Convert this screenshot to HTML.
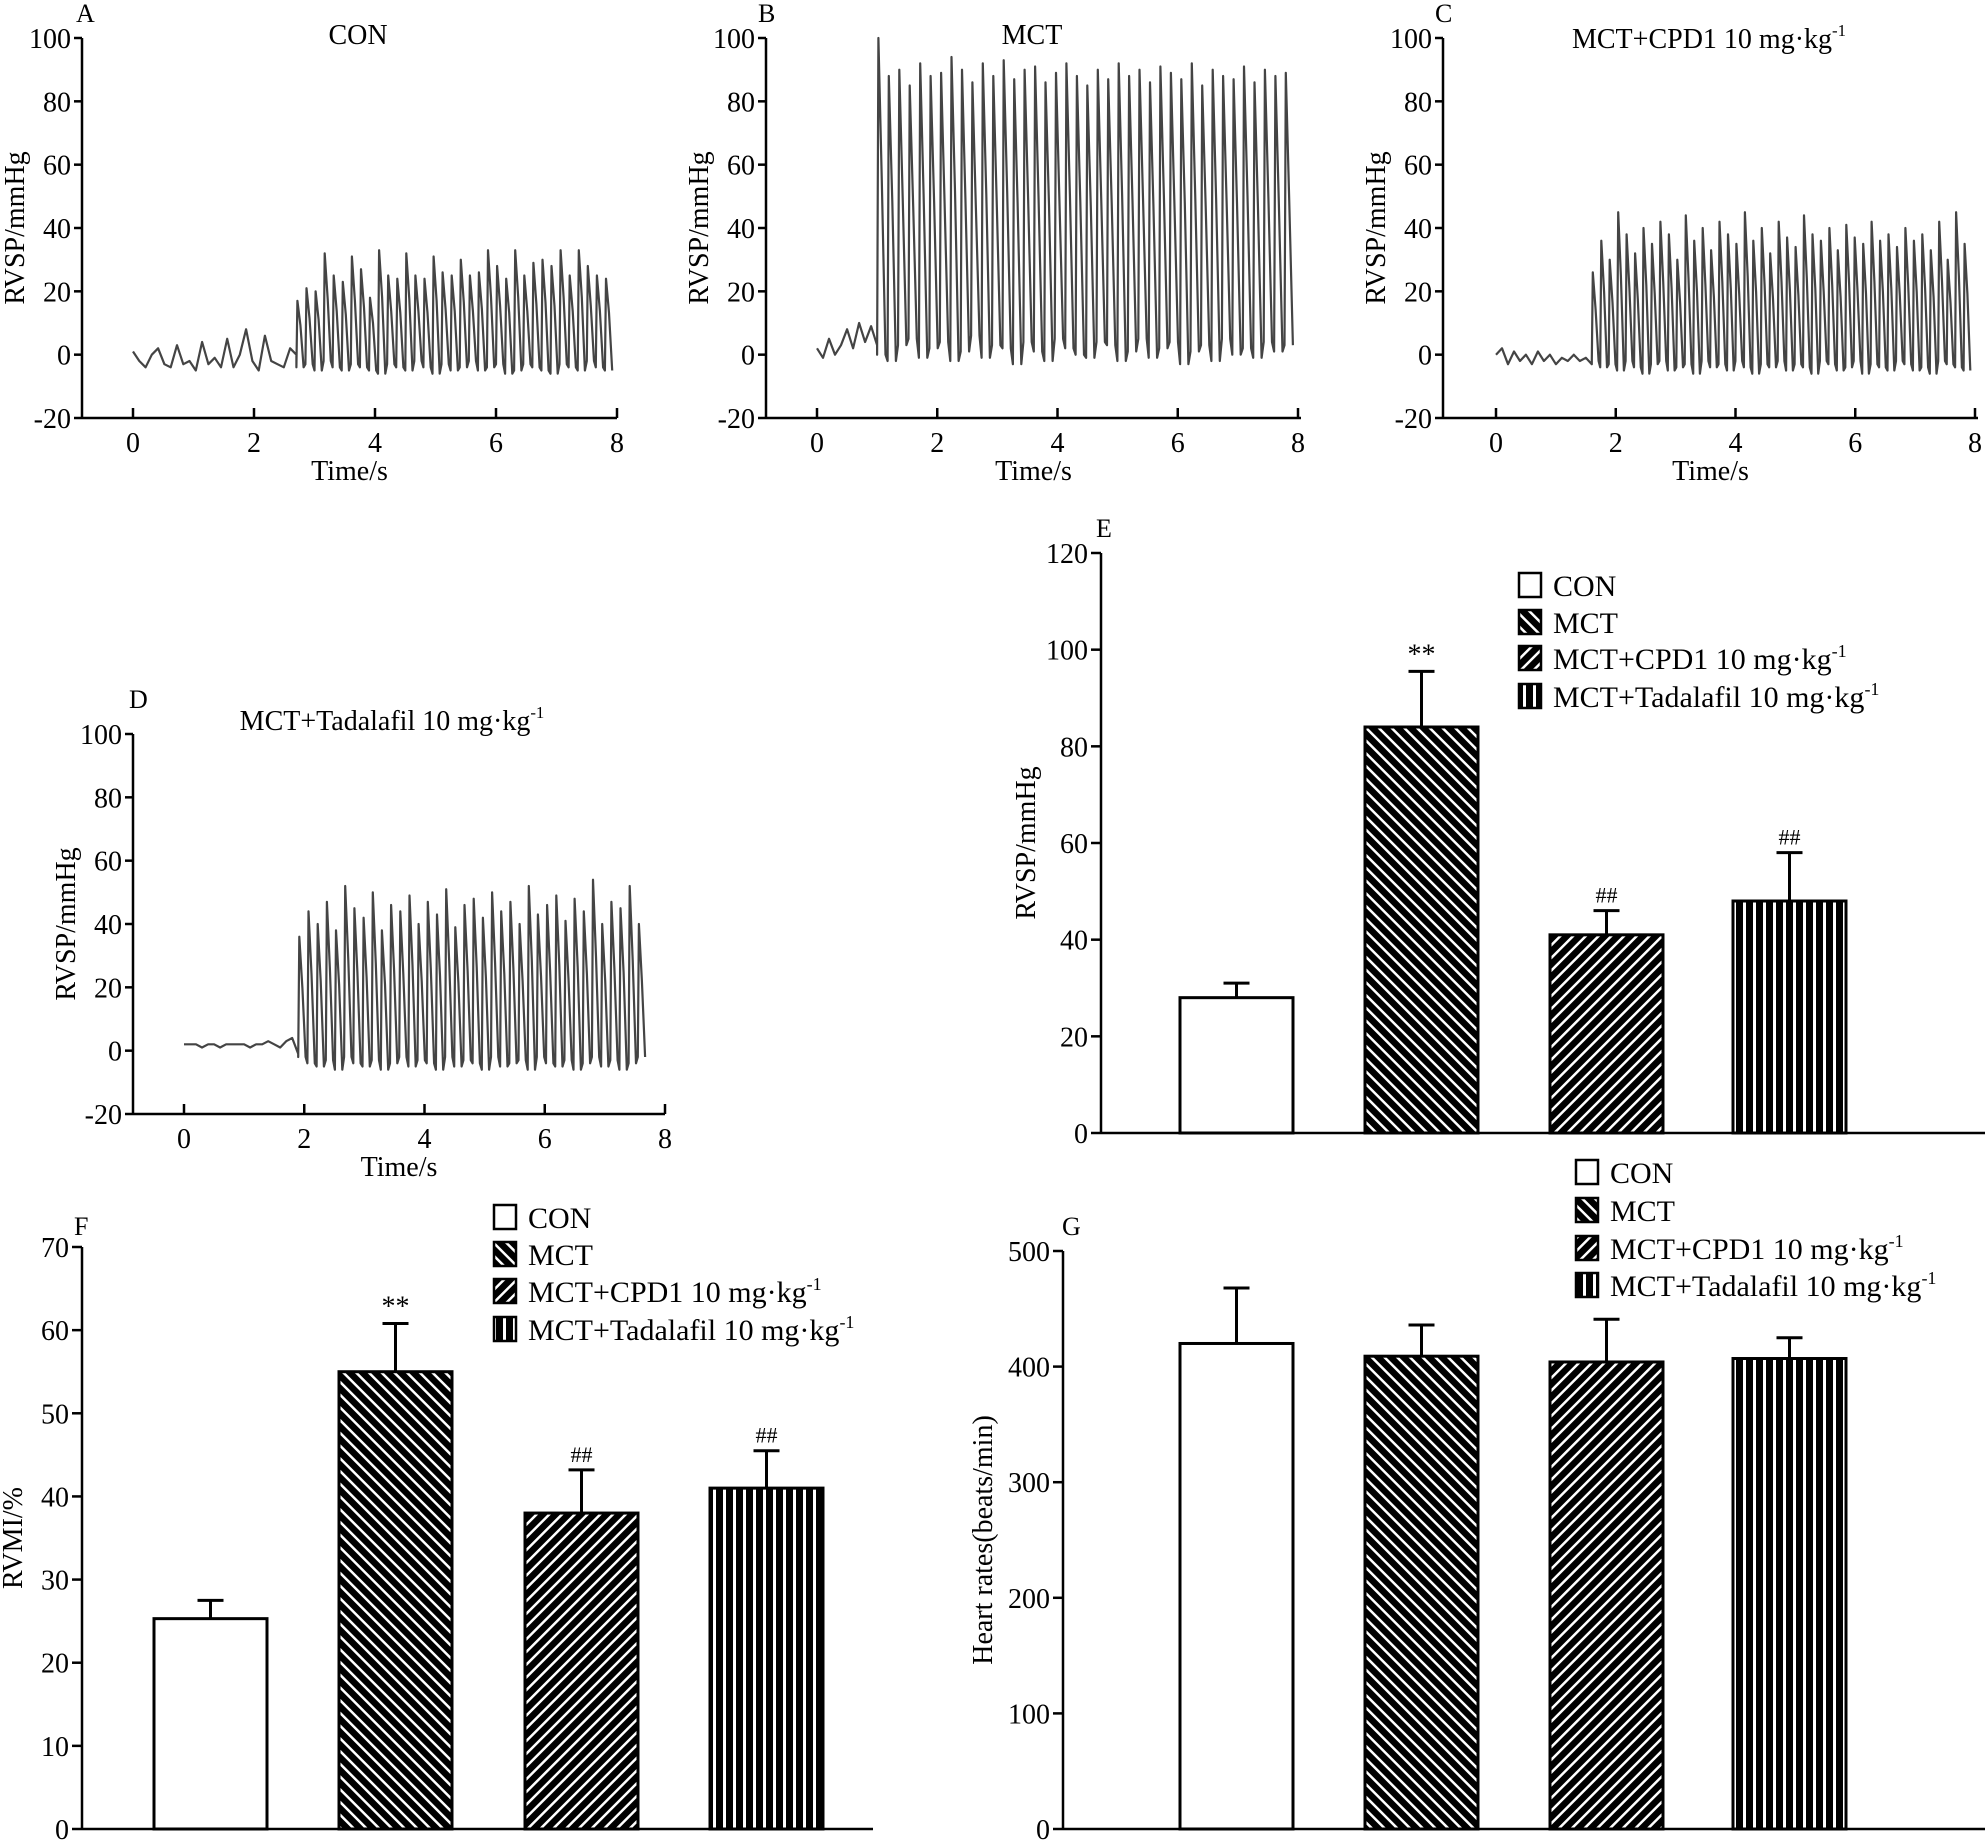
<!DOCTYPE html>
<html><head><meta charset="utf-8"><style>
body{margin:0;background:#fff;}
svg{display:block;font-family:"Liberation Serif",serif;}
</style></head><body>
<svg id="fig" width="1985" height="1843" viewBox="0 0 1985 1843">
<defs>
<pattern id="pMCT" patternUnits="userSpaceOnUse" width="9" height="9" patternTransform="rotate(-45)"><rect width="9" height="9" fill="#000"/><rect x="0" y="0" width="2.5" height="9" fill="#fff"/></pattern>
<pattern id="pCPD" patternUnits="userSpaceOnUse" width="9" height="9" patternTransform="rotate(45)"><rect width="9" height="9" fill="#000"/><rect x="0" y="0" width="2.5" height="9" fill="#fff"/></pattern>
<pattern id="pTAD" patternUnits="userSpaceOnUse" width="10" height="10"><rect width="10" height="10" fill="#000"/><rect x="3" y="0" width="3" height="10" fill="#fff"/></pattern>
</defs>
</svg>
<script>
// ---- trace data ----
const traceA_base=[1,-2,-4,0,2,-3,-4,3,-3,-2,-5,4,-3,-1,-4,5,-4,0,8,-2,-5,6,-2,-3,-4,2,0];
const traceA_peaks=[17,21,20,32,25,23,31,27,18,33,25,24,32,25,24,31,26,25,30,25,26,33,28,24,33,25,29,30,28,33,25,33,28,25,24];
const traceA_troughs=[-4,-3,-5,-2,-4,-5,-3,-4,-5,-6,-3,-4,-5,-2,-4,-6,-3,-5,-4,-2,-5,-4,-3,-6,-5,-3,-4,-5,-6,-3,-4,-5,-2,-4,-5];
const traceB_base=[2,-1,5,0,3,8,2,10,4,9,3];
const traceB_peaks=[100,88,90,85,92,88,89,94,90,86,92,88,93,87,90,91,86,89,92,88,85,90,87,92,88,90,86,91,89,87,92,85,90,88,87,91,86,90,88,89];
const traceB_troughs=[0,-2,3,5,-1,2,4,-2,1,6,-1,3,2,-3,4,1,-2,5,2,0,-1,4,3,-2,1,5,-1,2,4,-3,1,3,-2,5,0,2,-1,4,1,3];
const traceC_base=[0,2,-3,1,-2,0,-3,1,-2,0,-3,-1,-2,0,-2,-1,-3];
const traceC_peaks=[26,36,30,45,38,32,40,35,42,38,30,44,36,40,33,42,38,35,45,36,40,32,42,37,34,44,38,36,40,33,41,37,35,42,36,38,34,40,36,38,33,42,30,45,35];
const traceC_troughs=[-2,-4,-3,-5,-2,-4,-6,-3,-2,-5,-4,-3,-6,-2,-4,-3,-5,-2,-4,-6,-3,-4,-2,-5,-3,-4,-6,-2,-3,-5,-4,-2,-6,-3,-4,-5,-2,-3,-5,-4,-6,-2,-3,-4,-5];
const traceD_base=[2,2,2,1,2,2,1,2,2,2,2,1,2,2,3,2,1,3,4,-1];
const traceD_peaks=[36,44,40,47,38,52,45,42,50,38,46,44,49,40,47,43,51,39,46,48,42,50,44,47,40,52,43,46,49,41,48,44,54,40,47,45,52,40];
const traceD_troughs=[-2,-4,-5,-3,-6,-2,-4,-5,-3,-6,-4,-2,-5,-3,-4,-6,-2,-5,-3,-4,-6,-2,-5,-4,-3,-6,-2,-4,-5,-3,-6,-4,-2,-5,-3,-6,-4,-2];
// ---- bar data ----
const groups=["CON","MCT","MCT+CPD1 10 mg·kg-1","MCT+Tadalafil 10 mg·kg-1"];
const rvspMean=[28,84,41,48];
const rvspErr=[3,11.5,5,10];
const rvspMarks=["","**","##","##"];
const rvmiMean=[25.3,55,38,41];
const rvmiErr=[2.2,5.8,5.2,4.5];
const rvmiMarks=["","**","##","##"];
const hrMean=[420,409,404,407];
const hrErr=[48,27,37,18];
const traceTicksY=[-20,0,20,40,60,80,100];
const traceTicksX=[0,2,4,6,8];
const rvspTicks=[0,20,40,60,80,100,120];
const rvmiTicks=[0,10,20,30,40,50,60,70];
const hrTicks=[0,100,200,300,400,500];

const NS="http://www.w3.org/2000/svg";
const svg=document.getElementById('fig');
function mk(tag,attrs,parent,text){const e=document.createElementNS(NS,tag);for(const k in attrs)e.setAttribute(k,attrs[k]);if(text!==undefined)e.textContent=text;(parent||svg).appendChild(e);return e;}
function txt(x,y,s,anchor,size,parent,name){const t=mk('text',{x:x,y:y,'text-anchor':anchor||'middle','font-size':size||28,fill:'#000'},parent,s);


return t;}
function supLabel(x,y,s,size,parent,name,anchor){
  const t=mk('text',{x:x,y:y,'font-size':size,'text-anchor':anchor||'start',fill:'#000'},parent);
  
  
  if(s.endsWith('-1')){mk('tspan',{},t,s.slice(0,-2));mk('tspan',{dy:-12,'font-size':size*0.6},t,'-1');}
  else t.textContent=s;
  return t;}

function yAxis(g,ax,ticks,sy,xEnd,tickLen){
  const y0=sy(ticks[0]),y1=sy(ticks[ticks.length-1]);
  const l=mk('line',{x1:ax,y1:y0,x2:ax,y2:y1,stroke:'#000','stroke-width':2.5},g);
  
  ticks.forEach(v=>{const y=sy(v);
    const tk=mk('line',{x1:ax-tickLen,y1:y,x2:ax,y2:y,stroke:'#000','stroke-width':2.5},g);
    
    txt(ax-tickLen-3,y+10,String(v),'end',28,g,'y-tick-label');});
  const xl=mk('line',{x1:ax,y1:y0,x2:xEnd,y2:y0,stroke:'#000','stroke-width':2.5},g);
  
}

function tracePanel(cfg){
  const g=mk('g',{});
  
  
  const sy=v=>cfg.yTop+(100-v)/120*(cfg.yBot-cfg.yTop);
  const sx=t=>cfg.x0+t/8*(cfg.x8-cfg.x0);
  yAxis(g,cfg.ax,traceTicksY,sy,cfg.xEnd,8);
  traceTicksX.forEach(v=>{const x=sx(v);
    const tk=mk('line',{x1:x,y1:cfg.yBot,x2:x,y2:cfg.yBot-10,stroke:'#000','stroke-width':2.5},g);
    
    txt(x,cfg.yBot+34,String(v),'middle',28,g,'x-tick-label');});
  txt((cfg.ax+cfg.xEnd)/2,cfg.yBot+62,'Time/s','middle',28,g,'x-axis-title');
  const yt=txt(0,0,'RVSP/mmHg','middle',28,g,'y-axis-title');
  yt.setAttribute('transform',`translate(${cfg.ax-58},${(cfg.yTop+cfg.yBot)/2}) rotate(-90)`);
  supLabel(cfg.titleX,cfg.titleY,cfg.title,28,g,'panel-title','middle');
  txt(cfg.letterX,cfg.letterY,cfg.letter,'start',26,g,'panel-letter');
  const pts=[];
  const nb=cfg.base.length;
  cfg.base.forEach((v,i)=>pts.push([sx(i/(nb-1)*cfg.onset),sy(v)]));
  const n=cfg.peaks.length;const per=(cfg.end-cfg.onset)/n;
  for(let i=0;i<n;i++){const t=cfg.onset+i*per;
    pts.push([sx(t),sy(cfg.troughs[i])]);
    pts.push([sx(t+per*0.12),sy(cfg.peaks[i])]);
    pts.push([sx(t+per*0.45),sy(cfg.peaks[i]*0.55)]);
    pts.push([sx(t+per*0.8),sy(cfg.troughs[i])]);}
  const pl=mk('polyline',{points:pts.map(p=>p[0].toFixed(1)+','+p[1].toFixed(1)).join(' '),fill:'none',stroke:'#444','stroke-width':2.2,'stroke-linejoin':'round'},g);
  
  
}

tracePanel({name:'panel-a',ax:82,x0:133,x8:617,xEnd:617,yTop:38,yBot:418,base:traceA_base,peaks:traceA_peaks,troughs:traceA_troughs,onset:2.7,end:7.95,title:'CON',titleX:358,titleY:44,letter:'A',letterX:76,letterY:22});
tracePanel({name:'panel-b',ax:766,x0:817,x8:1298,xEnd:1301,yTop:38,yBot:418,base:traceB_base,peaks:traceB_peaks,troughs:traceB_troughs,onset:1.0,end:7.95,title:'MCT',titleX:1032,titleY:44,letter:'B',letterX:758,letterY:22});
tracePanel({name:'panel-c',ax:1443,x0:1496,x8:1975,xEnd:1978,yTop:38,yBot:418,base:traceC_base,peaks:traceC_peaks,troughs:traceC_troughs,onset:1.6,end:7.95,title:'MCT+CPD1 10 mg·kg-1',titleX:1709,titleY:48,letter:'C',letterX:1435,letterY:22});
tracePanel({name:'panel-d',ax:133,x0:184,x8:665,xEnd:665,yTop:734,yBot:1114,base:traceD_base,peaks:traceD_peaks,troughs:traceD_troughs,onset:1.9,end:7.7,title:'MCT+Tadalafil 10 mg·kg-1',titleX:392,titleY:730,letter:'D',letterX:129,letterY:708});

const fills=['#fff','url(#pMCT)','url(#pCPD)','url(#pTAD)'];
function legend(g,x,ys){
  groups.forEach((s,i)=>{
    const r=mk('rect',{x:x,y:ys[i]-12,width:22,height:24,fill:fills[i],stroke:'#000','stroke-width':2.5},g);
    
    supLabel(x+34,ys[i]+11,s,30,g,'legend-entry');
  });
}
function barPanel(cfg){
  const g=mk('g',{});
  
  
  const maxT=cfg.ticks[cfg.ticks.length-1];
  const sy=v=>cfg.yBot-v/maxT*(cfg.yBot-cfg.yTop);
  yAxis(g,cfg.ax,cfg.ticks,sy,cfg.xEnd,10);
  const yt=txt(0,0,cfg.ytitle,'middle',28,g,'y-axis-title');
  yt.setAttribute('transform',`translate(${cfg.ytX},${(cfg.yTop+cfg.yBot)/2}) rotate(-90)`);
  txt(cfg.letterX,cfg.letterY,cfg.letter,'start',26,g,'panel-letter');
  cfg.mean.forEach((v,i)=>{
    const x=cfg.barX[i],w=cfg.barW,cx=x+w/2;
    const top=sy(v),et=sy(v+cfg.err[i]);
    const el=mk('line',{x1:cx,y1:top,x2:cx,y2:et,stroke:'#000','stroke-width':3},g);
    
    const cap=mk('line',{x1:cx-13,y1:et,x2:cx+13,y2:et,stroke:'#000','stroke-width':3},g);
    
    const b=mk('rect',{x:x,y:top,width:w,height:cfg.yBot-top,fill:fills[i],stroke:'#000','stroke-width':3},g);
    
    
    if(cfg.marks&&cfg.marks[i])txt(cx,et-8,cfg.marks[i],'middle',cfg.marks[i]==='**'?28:22,g,'significance-mark');
  });
  legend(g,cfg.legX,cfg.legY);
}
barPanel({name:'panel-e',ax:1101,yTop:553,yBot:1133,xEnd:1985,ticks:rvspTicks,mean:rvspMean,err:rvspErr,marks:rvspMarks,barX:[1180,1365,1550,1733],barW:113,ytitle:'RVSP/mmHg',ytX:1035,letter:'E',letterX:1096,letterY:537,legX:1519,legY:[585,622,658,696]});
barPanel({name:'panel-f',ax:82,yTop:1247,yBot:1829,xEnd:873,ticks:rvmiTicks,mean:rvmiMean,err:rvmiErr,marks:rvmiMarks,barX:[154,339,525,710],barW:113,ytitle:'RVMI/%',ytX:22,letter:'F',letterX:74,letterY:1235,legX:494,legY:[1217,1254,1291,1329]});
barPanel({name:'panel-g',ax:1063,yTop:1251,yBot:1829,xEnd:1985,ticks:hrTicks,mean:hrMean,err:hrErr,marks:null,barX:[1180,1365,1550,1733],barW:113,ytitle:'Heart rates(beats/min)',ytX:992,letter:'G',letterX:1062,letterY:1235,legX:1576,legY:[1172,1210,1248,1285]});
</script>
</body></html>
